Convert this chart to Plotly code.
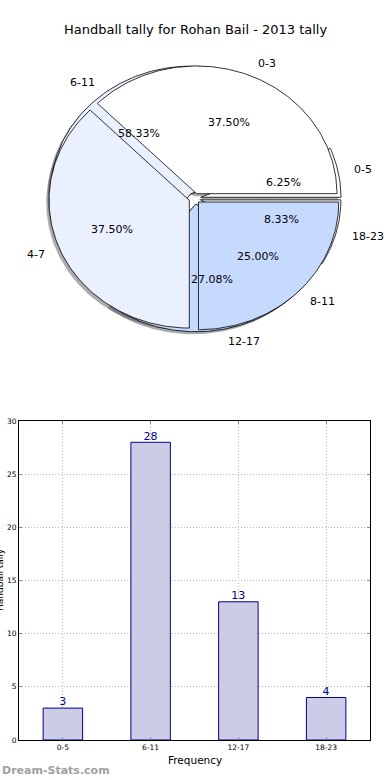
import numpy as np
import plotly.graph_objects as go

# ---------------- data ----------------
title_text = "Handball tally for Rohan Bail - 2013 tally"
pie_a_labels = ["0-3", "4-7", "8-11"]
pie_a_values = [18, 18, 12]
bar_labels = ["0-5", "6-11", "12-17", "18-23"]
bar_values = [3, 28, 13, 4]
wedge_colors = ["#ffffff", "#eaf0fe", "#c6d9ff"]
y_ticks = [0, 5, 10, 15, 20, 25, 30]

W, H = 390, 780
# pie geometry (pixels)
CX, CY, RX, RY = 194.5, 198.4, 140.3, 127.7
PIE_TOP, PIE_BOT = 40, 400
EXPLODE_A, EXPLODE_B = 0.04, 0.045
SHADOW = 0.02

fig = go.Figure()


def wedge_xy(t1, t2, dx, dy):
    n = max(3, int(abs(t2 - t1) / 1.0) + 2)
    th = np.radians(np.linspace(t1, t2, n))
    xs = np.concatenate([[dx], dx + np.cos(th), [dx]])
    ys = np.concatenate([[dy], dy + np.sin(th), [dy]])
    return xs, ys


def pie_geom(values, explode):
    vals = np.array(values, dtype=float)
    frac = vals / vals.sum()
    t = 0.0
    out = []
    for f in frac:
        t1, t2 = t, t + 360 * f
        tm = np.radians((t1 + t2) / 2)
        out.append((t1, t2, tm, explode * np.cos(tm), explode * np.sin(tm), f))
        t = t2
    return out


geom_b = pie_geom(bar_values, EXPLODE_B)
geom_a = pie_geom(pie_a_values, EXPLODE_A)

# shadows
for geom in (geom_b, geom_a):
    for (t1, t2, tm, dx, dy, f) in geom:
        xs, ys = wedge_xy(t1, t2, dx - SHADOW, dy - SHADOW)
        fig.add_trace(go.Scatter(x=xs, y=ys, mode="lines", fill="toself",
                                 fillcolor="rgba(70,70,70,0.45)", line=dict(width=0),
                                 hoverinfo="skip", showlegend=False,
                                 xaxis="x2", yaxis="y2"))

# wedges: second pie below, first pie on top
for geom in (geom_b, geom_a):
    for i, (t1, t2, tm, dx, dy, f) in enumerate(geom):
        xs, ys = wedge_xy(t1, t2, dx, dy)
        fig.add_trace(go.Scatter(x=xs, y=ys, mode="lines", fill="toself",
                                 fillcolor=wedge_colors[i % len(wedge_colors)],
                                 line=dict(color="black", width=0.8),
                                 hoverinfo="skip", showlegend=False,
                                 xaxis="x2", yaxis="y2"))

annotations = []
FONT = "DejaVu Sans"
for labels, geom in ((pie_a_labels, geom_a), (bar_labels, geom_b)):
    for lab, (t1, t2, tm, dx, dy, f) in zip(labels, geom):
        xt = dx + 1.1 * np.cos(tm)
        yt = dy + 1.1 * np.sin(tm)
        annotations.append(dict(x=xt, y=yt, xref="x2", yref="y2", text=lab,
                                showarrow=False, xanchor="left" if xt > 0 else "right",
                                yanchor="middle", font=dict(family=FONT, size=11, color="black")))
        xp = dx + 0.6 * np.cos(tm)
        yp = dy + 0.6 * np.sin(tm)
        annotations.append(dict(x=xp, y=yp, xref="x2", yref="y2", text="%.2f%%" % (f * 100),
                                showarrow=False, xanchor="center", yanchor="middle",
                                font=dict(family=FONT, size=11, color="black")))

# ---------------- bar chart ----------------
fig.add_trace(go.Bar(x=list(range(len(bar_labels))), y=bar_values, width=0.45,
                     marker=dict(color="#ccccE6", line=dict(color="#00008b", width=1)),
                     hoverinfo="skip", showlegend=False, xaxis="x", yaxis="y"))
fig.add_trace(go.Scatter(x=list(range(len(bar_labels))), y=bar_values, mode="text",
                         text=[str(v) for v in bar_values], textposition="top center",
                         textfont=dict(family=FONT, size=11, color="#00008b"),
                         hoverinfo="skip", showlegend=False, cliponaxis=False,
                         xaxis="x", yaxis="y"))

annotations.append(dict(x=0.5, y=1 - 30 / H, xref="paper", yref="paper", text=title_text,
                        showarrow=False, xanchor="center", yanchor="middle",
                        font=dict(family=FONT, size=13, color="black")))
annotations.append(dict(x=195 / W, y=1 - 760 / H, xref="paper", yref="paper", text="Frequency",
                        showarrow=False, xanchor="center", yanchor="middle",
                        font=dict(family=FONT, size=10.5, color="black")))
annotations.append(dict(x=0 / W, y=1 - 580 / H, xref="paper", yref="paper", text="Handball tally",
                        showarrow=False, textangle=-90, xanchor="center", yanchor="middle",
                        font=dict(family=FONT, size=9, color="black")))
annotations.append(dict(x=0, y=1 - 770 / H, xref="paper", yref="paper", text="<b>Dream-Stats.com</b>",
                        showarrow=False, xanchor="left", yanchor="middle",
                        font=dict(family=FONT, size=11, color="#a0a0a0")))

grid_style = dict(showgrid=True, gridcolor="#b8b8b8", griddash="1px,2px", gridwidth=1,
                  zeroline=False, showline=True, linecolor="black", linewidth=1, mirror="ticks",
                  ticks="inside", ticklen=3, tickcolor="#888", automargin=False,
                  tickfont=dict(family=FONT, size=7.5, color="black"))

fig.update_layout(
    width=W, height=H, margin=dict(l=0, r=0, t=0, b=0, autoexpand=False),
    paper_bgcolor="white", plot_bgcolor="white",
    annotations=annotations,
    xaxis=dict(domain=[19 / W, 370 / W], range=[-0.5, 3.5], tickmode="array",
               tickvals=list(range(len(bar_labels))), ticktext=bar_labels, **grid_style),
    yaxis=dict(domain=[1 - 740 / H, 1 - 421 / H], range=[0, 30], tickvals=y_ticks, **grid_style),
    xaxis2=dict(domain=[0, 1], range=[-CX / RX, (W - CX) / RX], visible=False, anchor="y2",
                automargin=False),
    yaxis2=dict(domain=[1 - PIE_BOT / H, 1 - PIE_TOP / H],
                range=[-(PIE_BOT - CY) / RY, (CY - PIE_TOP) / RY], visible=False, anchor="x2",
                automargin=False),
)

fig.write_html("out.html", config={"displayModeBar": False},
               post_script="document.body.style.margin='0';document.body.style.overflow='hidden';")
